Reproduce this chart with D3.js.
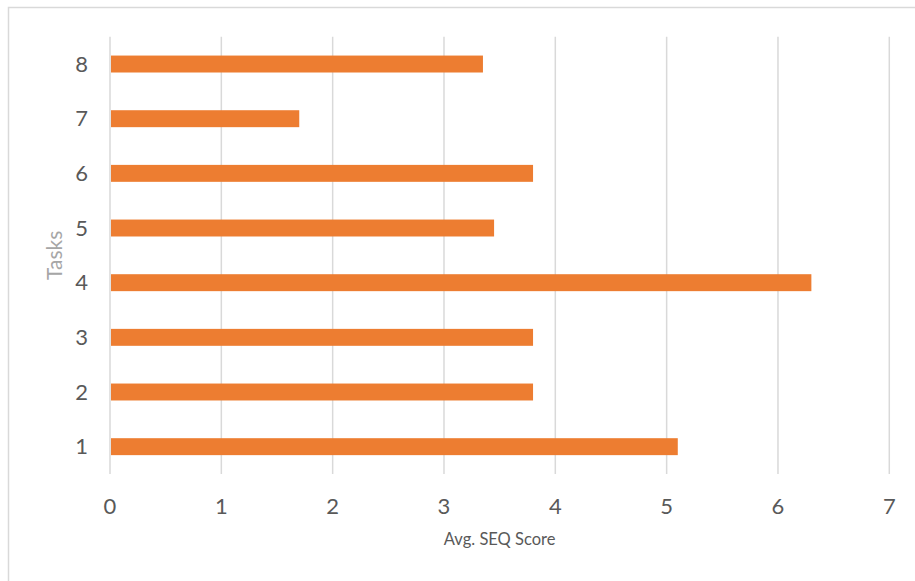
<!DOCTYPE html>
<html>
<head>
<meta charset="utf-8">
<script src="https://cdn.jsdelivr.net/npm/d3@7"></script>
<style>
  body { margin: 0; background: #fff; }
  text { font-family: Lato, "Open Sans", sans-serif; }
</style>
</head>
<body>
<script>
// tasks and their average SEQ score
var tasks = ['1', '2', '3', '4', '5', '6', '7', '8'];
var scores = [5.1, 3.8, 3.8, 6.3, 3.45, 3.8, 1.7, 3.35];
var xTicks = [0, 1, 2, 3, 4, 5, 6, 7];

var width = 915, height = 581;
var margin = {top: 36.7, right: 26, bottom: 107, left: 110};

var svg = d3.select('body').append('svg')
  .attr('width', width)
  .attr('height', height);

// chart border (right and bottom run off the picture)
svg.append('rect')
  .attr('x', 8.5).attr('y', 7.5)
  .attr('width', 920).attr('height', 590)
  .attr('fill', 'none')
  .attr('stroke', '#d9d9d9')
  .attr('stroke-width', 1.5);

var x = d3.scaleLinear().domain([0, 7]).range([margin.left, 889.3]);
var y = d3.scaleBand().domain(tasks.slice().reverse())
  .range([margin.top, height - margin.bottom])
  .paddingInner(0.69).paddingOuter(0.345);

// gridlines
svg.append('g').selectAll('line').data(xTicks).enter().append('line')
  .attr('x1', function(d) { return x(d); })
  .attr('x2', function(d) { return x(d); })
  .attr('y1', margin.top)
  .attr('y2', height - margin.bottom)
  .attr('stroke', '#d9d9d9')
  .attr('stroke-width', 1.5);

// bars
svg.append('g').selectAll('rect').data(tasks).enter().append('rect')
  .attr('x', x(0) + 1)
  .attr('y', function(d) { return y(d); })
  .attr('width', function(d, i) { return x(scores[i]) - x(0) - 1; })
  .attr('height', y.bandwidth())
  .attr('fill', '#ed7d31');

// x tick labels
svg.append('g').selectAll('text').data(xTicks).enter().append('text')
  .attr('x', function(d) { return x(d); })
  .attr('y', 514)
  .attr('text-anchor', 'middle')
  .attr('font-size', 22)
  .attr('fill', '#595959')
  .text(function(d) { return d; });

// y tick labels
svg.append('g').selectAll('text').data(tasks).enter().append('text')
  .attr('x', 88)
  .attr('y', function(d) { return y(d) + y.bandwidth() / 2; })
  .attr('dy', '0.35em')
  .attr('text-anchor', 'end')
  .attr('font-size', 22)
  .attr('fill', '#595959')
  .text(function(d) { return d; });

// axis titles
svg.append('text')
  .attr('x', (x(0) + x(7)) / 2)
  .attr('y', 545)
  .attr('text-anchor', 'middle')
  .attr('font-size', 16.5)
  .attr('fill', '#595959')
  .text('Avg. SEQ Score');

svg.append('text')
  .attr('transform', 'translate(62,' + ((margin.top + height - margin.bottom) / 2) + ') rotate(-90)')
  .attr('text-anchor', 'middle')
  .attr('font-size', 21)
  .attr('fill', '#a6a6a6')
  .text('Tasks');
</script>
</body>
</html>
